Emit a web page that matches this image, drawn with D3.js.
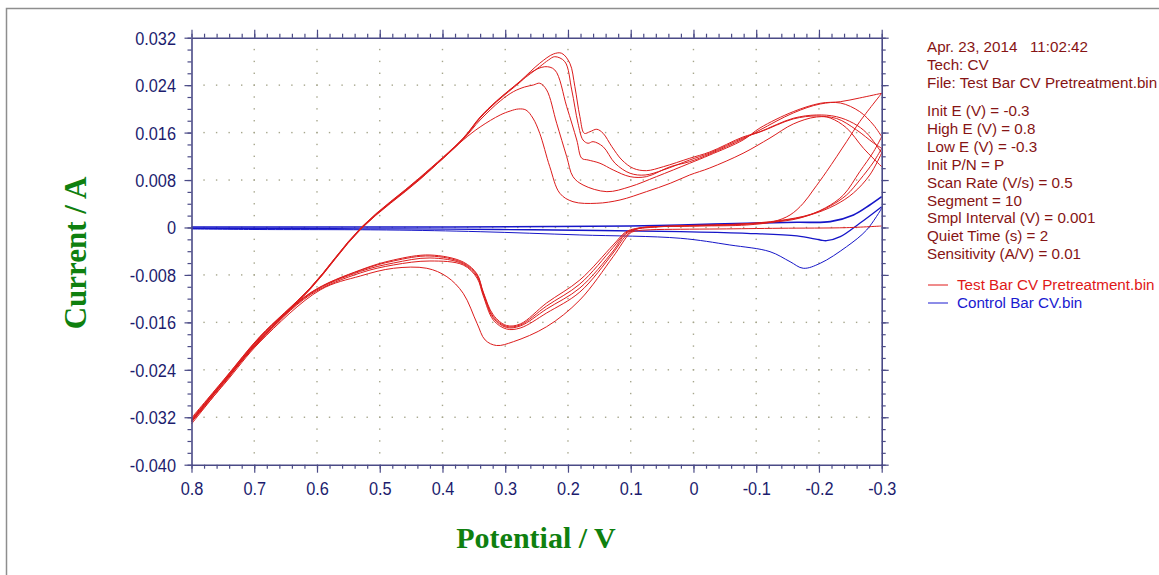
<!DOCTYPE html>
<html><head><meta charset="utf-8">
<script src="https://cdn.jsdelivr.net/npm/d3@7"></script>
<style>
html,body{margin:0;padding:0;background:#fff;}
svg{display:block;}
</style></head><body>
<svg id="chart" width="1159" height="575"></svg>
<script>
// ---------- tick values / labels ----------
const xTickValues = [0.8,0.7,0.6,0.5,0.4,0.3,0.2,0.1,0,-0.1,-0.2,-0.3];
const xTickLabels = ["0.8","0.7","0.6","0.5","0.4","0.3","0.2","0.1","0","-0.1","-0.2","-0.3"];
const yTickValues = [0.032,0.024,0.016,0.008,0,-0.008,-0.016,-0.024,-0.032,-0.040];
const yTickLabels = ["0.032","0.024","0.016","0.008","0","-0.008","-0.016","-0.024","-0.032","-0.040"];

const infoHeader = ["Apr. 23, 2014   11:02:42","Tech: CV","File: Test Bar CV Pretreatment.bin"];
const infoParams = ["Init E (V) = -0.3","High E (V) = 0.8","Low E (V) = -0.3","Init P/N = P","Scan Rate (V/s) = 0.5","Segment = 10","Smpl Interval (V) = 0.001","Quiet Time (s) = 2","Sensitivity (A/V) = 0.01"];
const legendLabels = ["Test Bar CV Pretreatment.bin","Control Bar CV.bin"];

// ---------- data: [potential V, current A] ----------
const testFwd1 = [[-0.300,0.00025],[-0.244,-0.00003],[-0.138,-0.00013],[-0.042,-0.00025],[0.021,-0.0003],[0.069,-0.00039],[0.092,-0.0006],[0.101,-0.00098],[0.128,-0.00492],[0.181,-0.01222],[0.234,-0.01673],[0.287,-0.01926],[0.314,-0.0199],[0.332,-0.01897],[0.345,-0.01615],[0.367,-0.0111],[0.393,-0.0083],[0.425,-0.00688],[0.478,-0.00688],[0.531,-0.00818],[0.595,-0.01054],[0.691,-0.01931],[0.745,-0.02605],[0.800,-0.0328]];
const testFwd2 = [[-0.300,0.01335],[-0.287,0.01104],[-0.265,0.00801],[-0.244,0.00548],[-0.218,0.00363],[-0.186,0.00219],[-0.138,0.00118],[-0.074,0.00059],[0.006,0.00034],[0.069,0],[0.092,-0.00034],[0.108,-0.00143],[0.128,-0.0043],[0.181,-0.01088],[0.234,-0.01442],[0.276,-0.01695],[0.298,-0.01712],[0.319,-0.0156],[0.335,-0.01155],[0.345,-0.00852],[0.367,-0.00632],[0.420,-0.00565],[0.478,-0.00632],[0.531,-0.00767],[0.611,-0.01138],[0.691,-0.01914],[0.745,-0.02571],[0.800,-0.03263]];
const testFwd3 = [[-0.300,0.02263],[-0.265,0.01784],[-0.244,0.01447],[-0.212,0.00941],[-0.191,0.00632],[-0.175,0.00408],[-0.154,0.00211],[-0.127,0.00098],[-0.085,0.00042],[-0.010,0.00025],[0.053,0.00017],[0.085,-0.00008],[0.108,-0.0011],[0.128,-0.00396],[0.181,-0.0102],[0.234,-0.01374],[0.276,-0.01661],[0.298,-0.01686],[0.319,-0.01526],[0.335,-0.01121],[0.345,-0.00826],[0.367,-0.00615],[0.420,-0.00514],[0.478,-0.00599],[0.531,-0.00742],[0.611,-0.01121],[0.691,-0.01905],[0.745,-0.02563],[0.800,-0.03271]];
const testFwd4 = [[-0.300,0.01531],[-0.287,0.01278],[-0.265,0.00941],[-0.239,0.00548],[-0.210,0.00329],[-0.170,0.0016],[-0.122,0.00084],[-0.042,0.00042],[0.021,0.00025],[0.069,0.00008],[0.092,-0.00025],[0.108,-0.00093],[0.128,-0.00337],[0.181,-0.00953],[0.234,-0.01324],[0.276,-0.01644],[0.298,-0.01669],[0.319,-0.01504],[0.335,-0.01104],[0.345,-0.00801],[0.367,-0.00599],[0.420,-0.00481],[0.478,-0.00565],[0.531,-0.00725],[0.611,-0.0111],[0.691,-0.01897],[0.745,-0.02555],[0.800,-0.03254]];
const testFwd5 = [[-0.300,0.01256],[-0.281,0.00885],[-0.255,0.00582],[-0.226,0.00379],[-0.186,0.00211],[-0.138,0.0011],[-0.074,0.00051],[0.006,0.00025],[0.069,0.00008],[0.092,-0.00017],[0.108,-0.00076],[0.128,-0.00295],[0.181,-0.00885],[0.234,-0.01273],[0.276,-0.01627],[0.298,-0.01652],[0.319,-0.01475],[0.335,-0.01088],[0.345,-0.00784],[0.367,-0.00582],[0.420,-0.00464],[0.478,-0.00548],[0.531,-0.00717],[0.611,-0.01104],[0.691,-0.01889],[0.745,-0.02546],[0.800,-0.03246]];

const testRev1 = [[0.800,-0.03313],[0.745,-0.02588],[0.691,-0.0188],[0.611,-0.01045],[0.529,-0.00017],[0.436,0.00809],[0.367,0.01475],[0.340,0.01695],[0.308,0.01897],[0.292,0.01964],[0.279,0.01998],[0.267,0.01981],[0.256,0.01846],[0.245,0.01588],[0.229,0.01025],[0.213,0.00577],[0.192,0.00435],[0.154,0.00408],[0.117,0.00464],[0.075,0.00604],[0.037,0.00745],[0.006,0.00885],[-0.026,0.01003],[-0.079,0.01251],[-0.122,0.01509],[-0.159,0.01745],[-0.196,0.01863],[-0.228,0.01838],[-0.260,0.01644],[-0.287,0.01425],[-0.300,0.01335]];
const testRev2 = [[0.800,-0.0328],[0.745,-0.02563],[0.691,-0.01863],[0.611,-0.01037],[0.529,-0.00008],[0.436,0.00818],[0.367,0.01484],[0.340,0.01813],[0.308,0.02133],[0.287,0.0229],[0.269,0.02369],[0.255,0.02403],[0.245,0.02432],[0.234,0.02319],[0.218,0.01757],[0.202,0.01194],[0.192,0.00857],[0.176,0.00717],[0.138,0.00604],[0.101,0.00688],[0.059,0.00857],[0.006,0.01083],[-0.026,0.01222],[-0.079,0.01475],[-0.106,0.01678],[-0.159,0.01953],[-0.202,0.02094],[-0.234,0.02121],[-0.265,0.02184],[-0.300,0.02263]];
const testRev3 = [[0.800,-0.03254],[0.745,-0.02546],[0.691,-0.01855],[0.611,-0.01029],[0.529,-0.00005],[0.436,0.00826],[0.367,0.01492],[0.340,0.01846],[0.314,0.02116],[0.276,0.02453],[0.261,0.026],[0.237,0.02711],[0.221,0.02656],[0.202,0.02037],[0.186,0.01475],[0.178,0.01167],[0.168,0.01138],[0.149,0.01083],[0.128,0.0097],[0.101,0.00857],[0.075,0.00857],[0.037,0.01025],[0.006,0.0111],[-0.026,0.01239],[-0.079,0.01492],[-0.106,0.01644],[-0.159,0.01931],[-0.202,0.02082],[-0.234,0.02099],[-0.265,0.01953],[-0.287,0.01728],[-0.300,0.01531]];
const testRev4 = [[0.800,-0.03229],[0.745,-0.02529],[0.691,-0.01846],[0.611,-0.01024],[0.529,0],[0.436,0.00835],[0.367,0.01501],[0.340,0.01855],[0.314,0.02125],[0.276,0.02462],[0.245,0.02711],[0.231,0.02824],[0.221,0.0288],[0.205,0.02796],[0.194,0.02319],[0.184,0.01757],[0.176,0.01475],[0.168,0.0142],[0.160,0.01447],[0.144,0.01362],[0.125,0.01083],[0.101,0.00914],[0.077,0.00885],[0.048,0.0097],[0.006,0.01138],[-0.026,0.01256],[-0.079,0.01509],[-0.106,0.01615],[-0.159,0.01841],[-0.196,0.01897],[-0.228,0.01868],[-0.255,0.01757],[-0.276,0.01593],[-0.300,0.01256]];
const testRev5 = [[0.800,-0.03212],[0.745,-0.02521],[0.691,-0.01838],[0.611,-0.0102],[0.529,0.00008],[0.436,0.00843],[0.367,0.01509],[0.340,0.01863],[0.314,0.02133],[0.276,0.0247],[0.245,0.02769],[0.223,0.02926],[0.210,0.02937],[0.197,0.02769],[0.189,0.02374],[0.181,0.01868],[0.174,0.01588],[0.165,0.01615],[0.154,0.01656],[0.144,0.01588],[0.130,0.01362],[0.114,0.01138],[0.096,0.00998],[0.075,0.00958],[0.048,0.01025],[0.006,0.01167],[-0.026,0.01273],[-0.079,0.01526],[-0.106,0.0161],[-0.159,0.0183],[-0.196,0.0188],[-0.218,0.01846],[-0.244,0.01678],[-0.271,0.01335],[-0.300,0.01025]];

const controlA = [[0.800,0.00008],[0.627,0.00008],[0.388,0.00008],[0.229,0.00017],[0.101,0.00025],[0.021,0.00042],[-0.085,0.00071],[-0.165,0.00088],[-0.218,0.00098],[-0.255,0.00211],[-0.281,0.00379],[-0.300,0.00519]];
const controlB = [[0.800,-0.00013],[0.627,-0.00017],[0.468,-0.00025],[0.308,-0.00034],[0.149,-0.00051],[0.021,-0.00071],[-0.085,-0.00098],[-0.165,-0.00143],[-0.202,-0.00211],[-0.212,-0.00223],[-0.234,-0.00155],[-0.265,0.00071],[-0.300,0.00351]];
const controlC = [[0.800,-0.00025],[0.702,-0.00034],[0.489,-0.00042],[0.340,-0.00071],[0.181,-0.00126],[0.021,-0.00182],[-0.058,-0.00295],[-0.122,-0.00408],[-0.154,-0.00577],[-0.175,-0.00688],[-0.202,-0.00604],[-0.244,-0.00324],[-0.276,-0.00042],[-0.300,0.00324]];

const testSeries = [testFwd1,testRev1,testFwd2,testRev2,testFwd3,testRev3,testFwd4,testRev4,testFwd5,testRev5];
const controlSeries = [controlC,controlB,controlA];
const controlWidths = [1.0,1.3,1.6];

// ---------- layout ----------
const svg = d3.select("#chart");
const X0 = 191.5, X1 = 881.7, Y0 = 464.7, Y1 = 37.7;
const x = d3.scaleLinear().domain([0.8,-0.3]).range([X0,X1]);
const y = d3.scaleLinear().domain([-0.04,0.032]).range([Y0,Y1]);
const axisColor = "#4a4a86";
const labelColor = "#1c1c6e";
const xMinor = d3.range(0,56).map(i => +(-0.3 + i*0.02).toFixed(2));
const yMinor = d3.range(0,37).map(i => +(-0.04 + i*0.002).toFixed(3));

// outer frame
svg.append("path").attr("d","M6.5,575V8.5H1159").attr("fill","none").attr("stroke","#8e8e8e").attr("stroke-width",1.5);

// grid dots
const grid = svg.append("g").attr("fill","#a6a68c");
const innerX = xTickValues.slice(1,-1), innerY = yTickValues.slice(1,-1);
innerX.forEach(xv => yMinor.slice(1,-1).forEach(yv => grid.append("rect").attr("x",x(xv)-0.7).attr("y",y(yv)-0.7).attr("width",1.4).attr("height",1.4)));
innerY.forEach(yv => xMinor.slice(1,-1).forEach(xv => grid.append("rect").attr("x",x(xv)-0.7).attr("y",y(yv)-0.7).attr("width",1.4).attr("height",1.4)));

// curves
const line = d3.line().x(d => x(d[0])).y(d => y(d[1])).curve(d3.curveCatmullRom.alpha(0.5));
svg.append("g").selectAll("path").data(controlSeries).join("path")
  .attr("d", line).attr("fill","none").attr("stroke","#1616c8")
  .attr("stroke-width",(d,i)=>controlWidths[i]).attr("stroke-linejoin","round");
svg.append("g").selectAll("path").data(testSeries).join("path")
  .attr("d", line).attr("fill","none").attr("stroke","#dc1c1c")
  .attr("stroke-width",1).attr("stroke-linejoin","round");

// axes
function styleAxis(g, keepDomain){
  if(!keepDomain) g.select(".domain").remove();
  else g.select(".domain").attr("stroke",axisColor).attr("stroke-width",1.6);
  g.selectAll(".tick line").attr("stroke",axisColor).attr("stroke-width",1.2);
}
const fontFam = "'Liberation Sans', Arial, sans-serif";
// bottom
svg.append("g").attr("transform",`translate(0,${Y0})`)
  .call(d3.axisBottom(x).tickValues(xMinor).tickSize(4).tickSizeOuter(0).tickFormat(""))
  .call(g=>styleAxis(g,false));
const gxb = svg.append("g").attr("transform",`translate(0,${Y0})`)
  .call(d3.axisBottom(x).tickValues(xTickValues).tickSize(8).tickSizeOuter(0).tickFormat((d,i)=>xTickLabels[i]))
  .call(g=>styleAxis(g,true));
gxb.attr("font-family",fontFam).attr("font-size",19);
gxb.selectAll(".tick text").attr("fill",labelColor).attr("y",30.5).attr("dy",0).attr("transform","scale(0.86,1)");
// top
svg.append("g").attr("transform",`translate(0,${Y1})`)
  .call(d3.axisTop(x).tickValues(xMinor).tickSize(4).tickSizeOuter(0).tickFormat(""))
  .call(g=>styleAxis(g,false));
svg.append("g").attr("transform",`translate(0,${Y1})`)
  .call(d3.axisTop(x).tickValues(xTickValues).tickSize(8).tickSizeOuter(0).tickFormat(""))
  .call(g=>styleAxis(g,true));
// left
svg.append("g").attr("transform",`translate(${X0},0)`)
  .call(d3.axisLeft(y).tickValues(yMinor).tickSize(4).tickSizeOuter(0).tickFormat(""))
  .call(g=>styleAxis(g,false));
const gyl = svg.append("g").attr("transform",`translate(${X0},0)`)
  .call(d3.axisLeft(y).tickValues(yTickValues).tickSize(7).tickSizeOuter(0).tickFormat((d,i)=>yTickLabels[i]))
  .call(g=>styleAxis(g,true));
gyl.attr("font-family",fontFam).attr("font-size",19);
gyl.selectAll(".tick text").attr("fill",labelColor).attr("x",0).attr("dy","0.34em").attr("transform","translate(-15.5,0) scale(0.86,1)");
// right
svg.append("g").attr("transform",`translate(${X1},0)`)
  .call(d3.axisRight(y).tickValues(yMinor).tickSize(4).tickSizeOuter(0).tickFormat(""))
  .call(g=>styleAxis(g,false));
svg.append("g").attr("transform",`translate(${X1},0)`)
  .call(d3.axisRight(y).tickValues(yTickValues).tickSize(7).tickSizeOuter(0).tickFormat(""))
  .call(g=>styleAxis(g,true));

// axis titles
const serif = "'Liberation Serif','Times New Roman',serif";
svg.append("text").attr("x",536).attr("y",548).attr("text-anchor","middle")
  .attr("font-family",serif).attr("font-weight","bold").attr("font-size",30).attr("fill","#0f800f")
  .text("Potential / V");
svg.append("text").attr("transform","translate(86,253) rotate(-90)").attr("text-anchor","middle")
  .attr("font-family",serif).attr("font-weight","bold").attr("font-size",31).attr("fill","#0f800f")
  .text("Current / A");

// info block
const infoSize = 15.2;
const info = svg.append("g").attr("font-family",fontFam).attr("font-size",infoSize).attr("fill","#861414");
infoHeader.forEach((t,i)=>info.append("text").attr("x",927).attr("y",52+i*18).style("white-space","pre").text(t));
infoParams.forEach((t,i)=>info.append("text").attr("x",927).attr("y",116+i*17.9).text(t));

// legend
const legColors = ["#e01818","#1a1ad0"];
legendLabels.forEach((t,i)=>{
  const yy = 289.5 + i*18;
  svg.append("line").attr("x1",928).attr("x2",948).attr("y1",yy-4.5).attr("y2",yy-4.5).attr("stroke",legColors[i]).attr("stroke-width",1);
  svg.append("text").attr("x",957).attr("y",yy).attr("font-family",fontFam).attr("font-size",infoSize).attr("fill",legColors[i]).text(t);
});
</script>
</body></html>
